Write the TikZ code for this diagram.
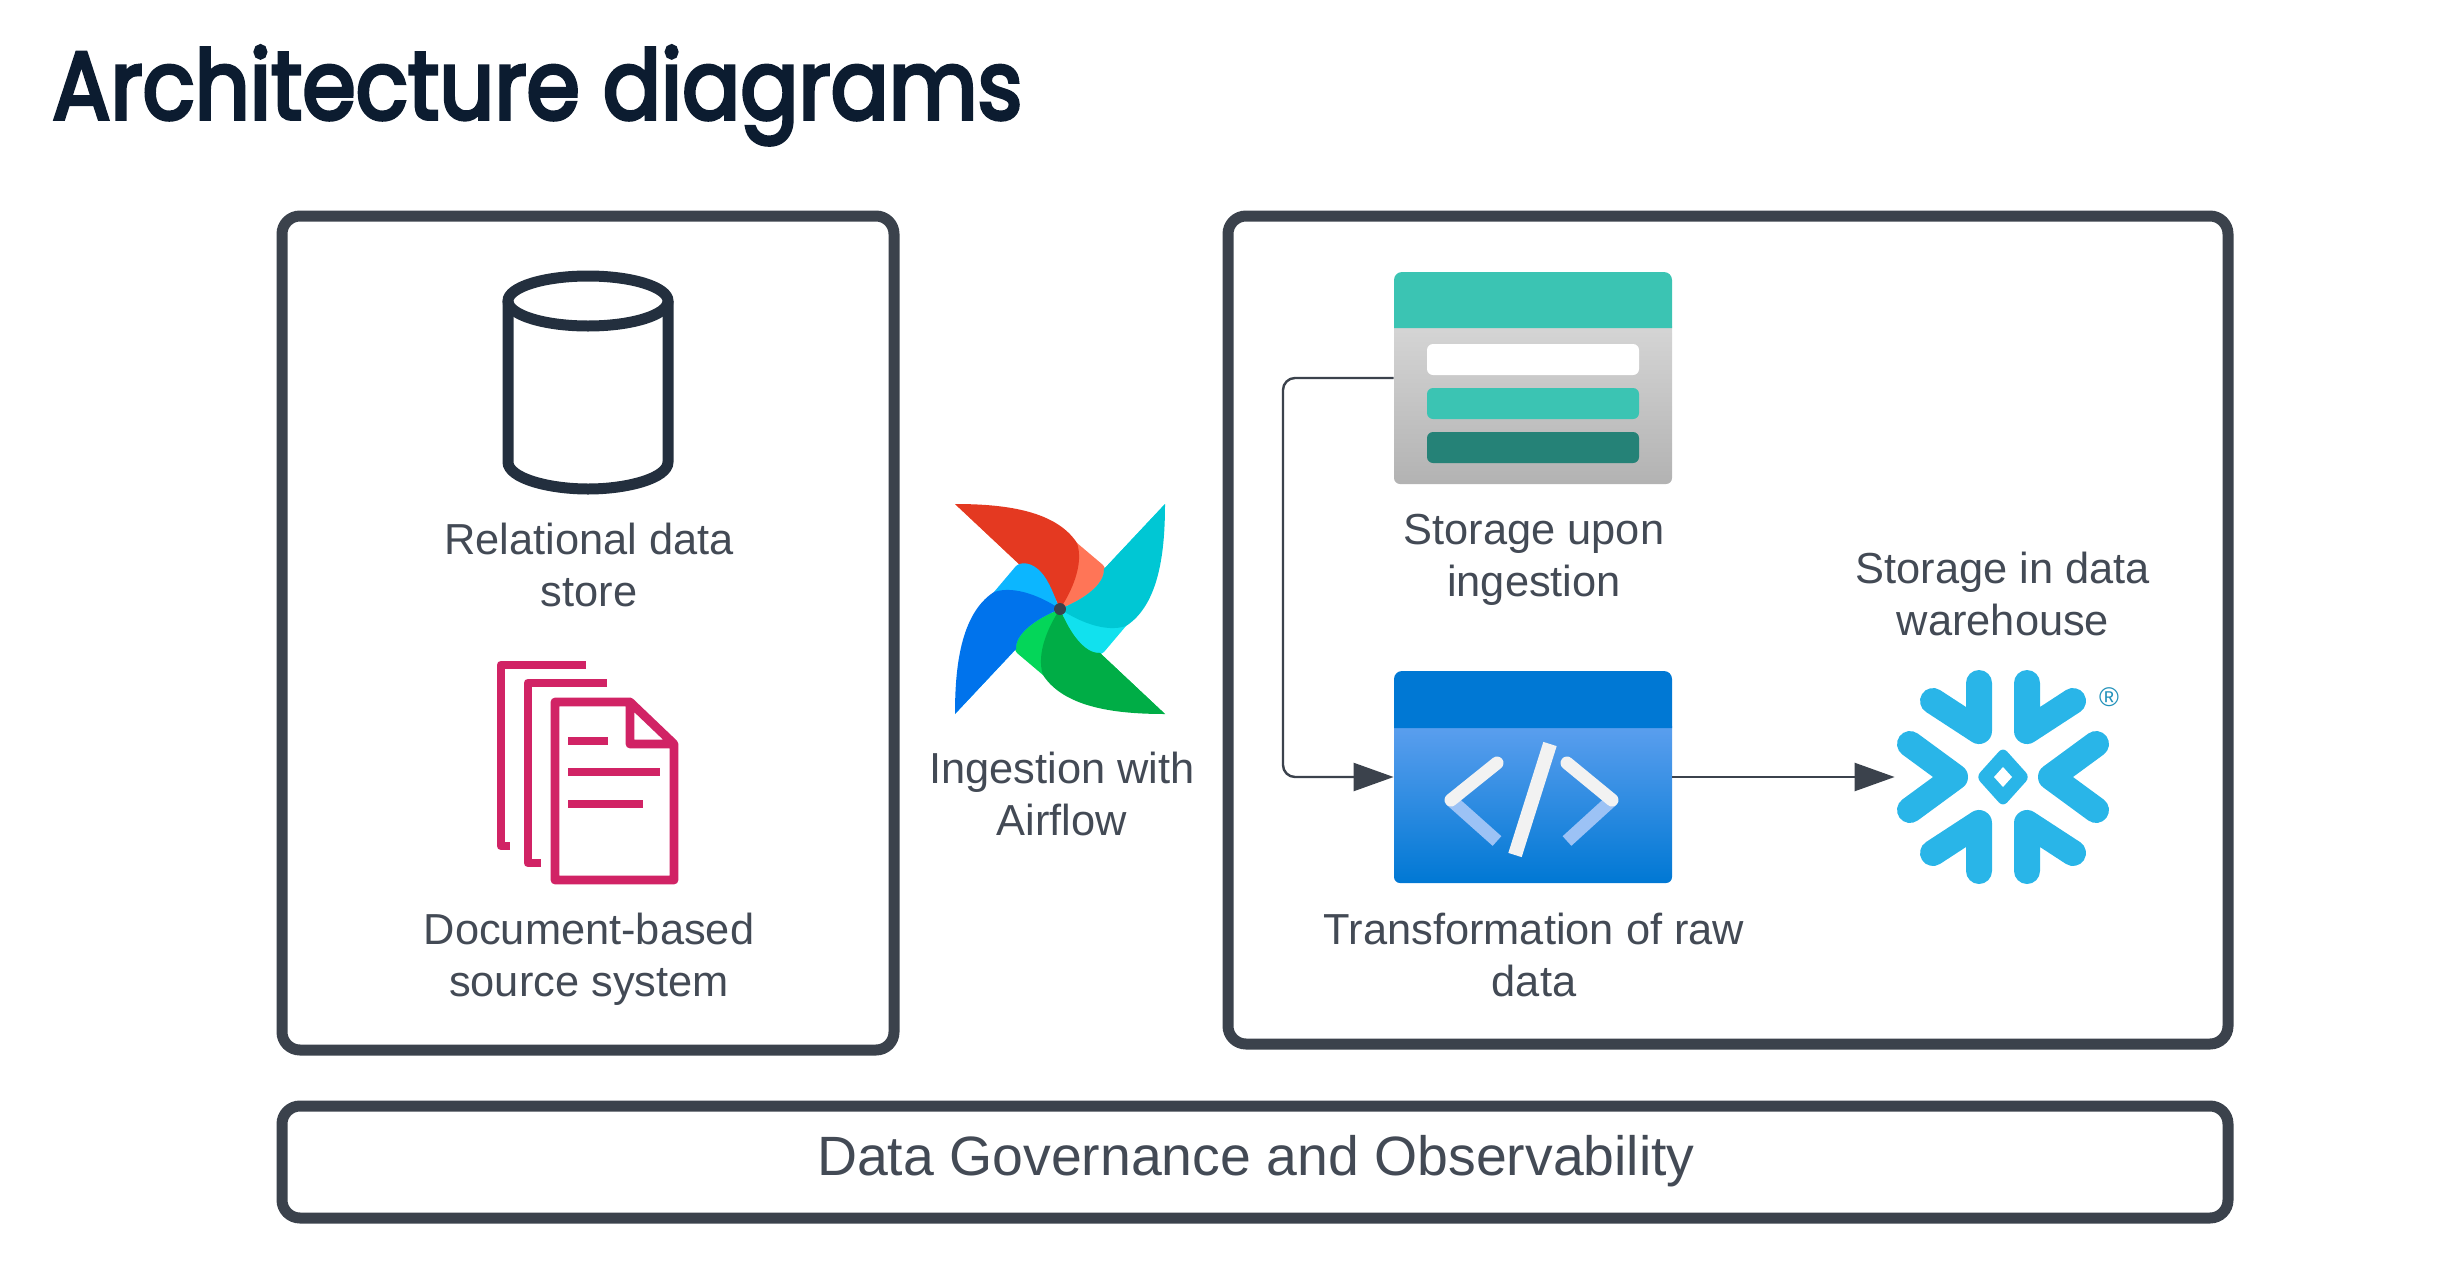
\documentclass[tikz,border=0pt]{standalone}
\usepackage{fontspec}
\setmainfont{Liberation Sans}
\newfontfamily\titlefont[FakeBold=4]{Poppins}
\usetikzlibrary{arrows.meta}
\definecolor{framegray}{HTML}{3B424C}
\definecolor{labelgray}{HTML}{434A55}
\definecolor{titleink}{HTML}{0C1C30}
\definecolor{cylink}{HTML}{232F3E}
\definecolor{docpink}{HTML}{D12365}
\definecolor{tealbar}{HTML}{3BC4B3}
\definecolor{darkteal}{HTML}{258277}
\definecolor{azure}{HTML}{0078D4}
\definecolor{azurelight}{HTML}{5EA0EF}
\definecolor{codeshade}{HTML}{9CC2F5}
\definecolor{snowblue}{HTML}{29B5E8}
\tikzset{
  frame/.style={draw=framegray,line width=5.5pt,rounded corners=9pt},
  lbl/.style={text=labelgray,align=center,font=\fontsize{21.7}{26}\selectfont},
  flow/.style={draw=framegray,line width=1.2pt,rounded corners=6pt,-{Triangle[length=20pt,width=14pt]}},
  slot/.style={minimum width=1pt,inner sep=0pt},
  sheet/.style={draw=docpink,line width=4.4pt,line join=round},
  snowarm/.style={draw=snowblue,line width=13pt,line cap=round,line join=round},
}
\begin{document}
\begin{tikzpicture}[x=0.5pt,y=-0.5pt]
\useasboundingbox (0,0) rectangle (2454,1264);
\node[anchor=base west,inner sep=0pt,text=titleink] (title) at (52,119) {\resizebox{485pt}{\height}{\fontsize{48}{50}\titlefont Architecture diagrams}};
% frames
\draw[frame] (282,216) rectangle (894,1050);
\draw[frame] (1228,216) rectangle (2228,1044);
\draw[frame] (282,1106) rectangle (2228,1218);
\node[text=labelgray,font=\fontsize{27.7}{30}\selectfont] (gov) at (1256,1161) {Data Governance and Observability};
% cylinder
\draw[draw=cylink,line width=5.5pt] (508,301) -- (508,462) .. controls (508,478) and (548,489) .. (588,489) .. controls (628,489) and (668,478) .. (668,462) -- (668,301);
\draw[draw=cylink,line width=5.5pt] (588,301) ellipse[x radius=40pt,y radius=12.5pt];
\node[lbl] (relational) at (589,565) {Relational data\\store};
% documents
\draw[sheet] (586,665) -- (501,665) -- (501,846) -- (510,846);
\draw[sheet] (607,683) -- (528,683) -- (528,863) -- (541,863);
\draw[sheet] (630,702) -- (555,702) -- (555,880) -- (674,880) -- (674,744) -- (630,702) -- (630,744) -- (674,744);
\draw[sheet] (568,741) -- (608,741);
\draw[sheet] (568,772) -- (660,772);
\draw[sheet] (568,804) -- (643,804);
\node[lbl] (document) at (589,959.5) {Document-based\\source system};
% pinwheel
\foreach \ang/\dk/\lt in {0/E43921/FF7557,-90/00C7D4/11E1EE,-180/00AD46/04D659,-270/0073EC/0CB6FF}{
\definecolor{bladedark}{HTML}{\dk}
\definecolor{bladelight}{HTML}{\lt}
\begin{scope}[shift={(1060,609)},rotate=\ang]
\fill[bladelight] (0,0) .. controls (-10,-25) and (-25,-45) .. (-40,-44) -- (-105,-105) -- (17,-66) -- (43,-44) .. controls (48,-38) and (46,-28) .. (38,-20) .. controls (28,-10) and (10,-5) .. (0,0) -- cycle;
\fill[bladedark] (-105,-105) .. controls (-60,-105) and (-5,-100) .. (17,-66) .. controls (24,-45) and (12,-18) .. (0,0) .. controls (-10,-25) and (-25,-45) .. (-40,-44) -- cycle;
\end{scope}
}
\fill[framegray] (1060,609) circle[radius=3pt];
\node[lbl] (ingestion) at (1062,794) {Ingestion with\\Airflow};
% storage icon
\node[slot,minimum width=139pt,minimum height=106pt] (storage) at (1533,378) {};
\shade[top color=black!16,bottom color=black!30,rounded corners=3pt] (1394,320) rectangle (1672,484);
\fill[tealbar] (1394,328) [rounded corners=4pt] -- (1394,272) -- (1672,272) [sharp corners] -- (1672,328) -- cycle;
\fill[white,rounded corners=3pt] (1427,344) rectangle (1639,375);
\fill[tealbar,rounded corners=3pt] (1427,388) rectangle (1639,419);
\fill[darkteal,rounded corners=3pt] (1427,432) rectangle (1639,463);
\node[lbl] (ingest) at (1534,560) {Storage upon\\ingestion};
% code icon
\node[slot,minimum width=139pt,minimum height=106pt] (blue) at (1533,777) {};
\shade[top color=azurelight,bottom color=azure,rounded corners=3pt] (1394,720) rectangle (1672,883);
\fill[azure] (1394,728) [rounded corners=4pt] -- (1394,671) -- (1672,671) [sharp corners] -- (1672,728) -- cycle;
\foreach \ax/\bx in {1497/1451,1567/1612}{
\draw[codeshade,line width=6.5pt] (\bx,800) -- (\ax,841);
\draw[black!5,line width=6.5pt,line cap=round] (\ax,763) -- (\bx,800);
}
\draw[black!5,line width=7pt] (1550,744) -- (1515,855);
\node[lbl] (transform) at (1534,955) {Transformation of raw\\data};
% snowflake
\node[slot,minimum width=108pt,minimum height=108pt] (snow) at (2003,777) {};
\begin{scope}[shift={(2003,777)}]
\foreach \sx in {-1,1}{
\foreach \sy in {-1,1}
\draw[snowarm] (\sx*24,\sy*94) -- (\sx*24,\sy*46) -- (\sx*70,\sy*76);
\draw[snowarm] (\sx*93,-33) -- (\sx*48,0) -- (\sx*93,33);
}
\fill[snowblue,rounded corners=3pt] (-27,0) -- (0,-30) -- (27,0) -- (0,30) -- cycle;
\fill[white] (-9,0) -- (0,-10) -- (9,0) -- (0,10) -- cycle;
\end{scope}
\node[inner sep=0pt,text=snowblue!80!black,font=\fontsize{13.5}{14}\selectfont] (regmark) at (2109,697) {®};
\node[lbl] (warehouse) at (2003,594) {Storage in data\\warehouse};
% connectors
\coordinate (bend) at (1283,577);
\draw[flow] (storage.west) -| (bend) |- (blue.west);
\draw[flow] (blue.east) -- (snow.west);
\end{tikzpicture}
\end{document}
